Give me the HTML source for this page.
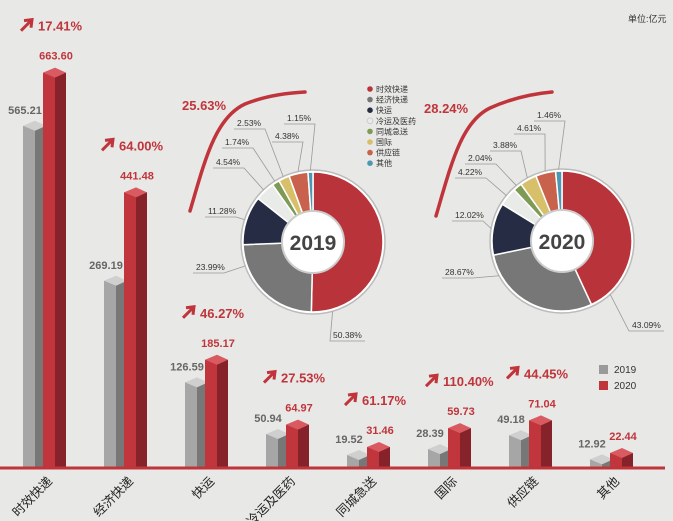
<!DOCTYPE html>
<html><head><meta charset="utf-8">
<style>
body{margin:0;background:#e8e8e6;}
svg{display:block;font-family:"Liberation Sans","Noto Sans CJK SC",sans-serif;}
</style></head>
<body>
<svg id="c" width="673" height="521" viewBox="0 0 673 521">
<rect width="673" height="521" fill="#e8e8e6"/>
<text x="628" y="22" font-size="9" fill="#333">单位:亿元</text>
<g id="bars"></g>
<line x1="0" y1="468" x2="665" y2="468" stroke="#c0353b" stroke-width="3"/>
<g id="donuts"></g>
<path d="M190,211 C205,160 215,118 245,104 C265,96 285,93 305,92" fill="none" stroke="#c0353b" stroke-width="3.5" stroke-linecap="round"/>
<text x="182" y="110" font-size="13" font-weight="bold" fill="#c0353b">25.63%</text>
<path d="M436,216 C451,165 461,122 490,108 C510,99 530,94 552,92" fill="none" stroke="#c0353b" stroke-width="3.5" stroke-linecap="round"/>
<text x="424" y="113" font-size="13" font-weight="bold" fill="#c0353b">28.24%</text>
<g id="legend"></g>
<g>
<rect x="599" y="365" width="9" height="9" fill="#9a9a9a"/>
<text x="614" y="373" font-size="10" fill="#333">2019</text>
<rect x="599" y="381" width="9" height="9" fill="#c0353b"/>
<text x="614" y="389" font-size="10" fill="#333">2020</text>
</g>
</svg>
<script>
const categories=["时效快递","经济快递","快运","冷运及医药","同城急送","国际","供应链","其他"];
const values2019=[565.21,269.19,126.59,50.94,19.52,28.39,49.18,12.92];
const values2020=[663.60,441.48,185.17,64.97,31.46,59.73,71.04,22.44];
const growthLabels=["17.41%","64.00%","46.27%","27.53%","61.17%","110.40%","44.45%"];
const share2019=[50.38,23.99,11.28,4.54,1.74,2.53,4.38,1.15];
const share2020=[43.09,28.67,12.02,4.22,2.04,3.88,4.61,1.46];
const NS="http://www.w3.org/2000/svg";
function mk(t,a,p){const e=document.createElementNS(NS,t);for(const k in a)e.setAttribute(k,a[k]);(p||document.getElementById('c')).appendChild(e);return e;}
const base=468;
const dom=[0,60,130,190,270,450,700], rng=[0,40,88,110,188,280,415];
function yScale(v){for(let i=1;i<dom.length;i++){if(v<=dom[i]||i==dom.length-1){const t=(v-dom[i-1])/(dom[i]-dom[i-1]);return base-(rng[i-1]+t*(rng[i]-rng[i-1]));}}}
function xScale(i){return 23+81*i;}
const bars=document.getElementById('bars');
function bar3d(x,v,cols,name){
  const y=yScale(v), fw=12, sw=11, d=5;
  const g=mk('g',{},bars);
  
  
  const f=mk('rect',{x:x,y:y,width:fw,height:base-y,fill:cols[0]},g);
  
  
  const s=mk('rect',{x:x+fw,y:y,width:sw,height:base-y,fill:cols[1]},g);
  
  
  const t=mk('polygon',{points:`${x},${y} ${x+fw},${y-d} ${x+fw+sw},${y} ${x+fw},${y+d}`,fill:cols[2]},g);
  
  
  return y;
}
categories.forEach((c,i)=>{
  const gx=xScale(i), rx=gx+20;
  const yg=bar3d(gx,values2019[i],['#a6a6a6','#777777','#cfcfcf'],'bar-2019-'+i);
  const yr=bar3d(rx,values2020[i],['#c1353c','#86232a','#d95b61'],'bar-2020-'+i);
  const tg=mk('text',{x:gx+2,y:yg-12,'font-size':11,'font-weight':'bold',fill:'#666','text-anchor':'middle'});
  tg.textContent=values2019[i].toFixed(2);
  
  
  const tr=mk('text',{x:rx+13,y:yr-13,'font-size':11,'font-weight':'bold',fill:'#c0353b','text-anchor':'middle'});
  tr.textContent=values2020[i].toFixed(2);
  
  
  const cx=gx+30;
  const cl=mk('text',{x:cx,y:482,'font-size':12.5,fill:'#222','text-anchor':'end',transform:`rotate(-45 ${cx} 482)`});
  cl.textContent=c;
  
  
  if(i<growthLabels.length){
    const gy=yr-42, ax=rx-22;
    const ar=mk('path',{d:`M${ax},${gy} L${ax+10},${gy-10} M${ax+3},${gy-10} L${ax+11},${gy-11} L${ax+10},${gy-3}`,stroke:'#c0353b','stroke-width':3,fill:'none'});
    
    
    const gl=mk('text',{x:ax+17,y:gy,'font-size':13,'font-weight':'bold',fill:'#c0353b'});
    gl.textContent=growthLabels[i];
    
    
  }
});
const colors=['#b9343a','#777777','#262c43','#e9ebe8','#7e9a55','#d8bf6a','#c8624c','#4d97b3'];
const lab2019=[[333,338],[196,270],[208,214],[216,165],[225,145],[237,126],[275,139],[287,121]];
const lab2020=[[632,328],[445,275],[455,218],[458,175],[468,161],[493,148],[517,131],[537,118]];
const dn=document.getElementById('donuts');
function donut(cx,cy,share,labs,year){
  const R=70,r=31;
  const g=mk('g',{},dn);
  
  
  const o=mk('circle',{cx:cx,cy:cy,r:R+2,fill:'#fff',stroke:'#bbb','stroke-width':1.5},g);
  
  
  const tot=share.reduce((a,b)=>a+b,0);
  let a0=0;
  share.forEach((s,i)=>{
    const a1=a0+s/tot*2*Math.PI;
    const p=(a,rr)=>[cx+rr*Math.sin(a),cy-rr*Math.cos(a)];
    const [x0,y0]=p(a0,R),[x1,y1]=p(a1,R);
    const lg=(a1-a0)>Math.PI?1:0;
    const sl=mk('path',{d:`M${cx},${cy} L${x0},${y0} A${R},${R} 0 ${lg} 1 ${x1},${y1} Z`,fill:colors[i],stroke:'#fff','stroke-width':1.5},g);
    
    
    const am=(i<2)?a1-0.3:(a0+a1)/2;
    const [mx,my]=p(am,R+2);
    const [lx,ly]=labs[i];
    const leftSide=lx<cx;
    let pts;
    if(leftSide){pts=`${lx-3},${ly+3} ${lx+28},${ly+3} ${mx},${my}`;}
    else{pts=`${lx+32},${ly+3} ${lx-3},${ly+3} ${mx},${my}`;}
    const ln=mk('polyline',{points:pts,fill:'none',stroke:'#999','stroke-width':0.8},g);
    
    
    const t=mk('text',{x:lx,y:ly,'font-size':8.5,fill:'#333'},g);
    t.textContent=s.toFixed(2)+'%';
    
    
    a0=a1;
  });
  const ic=mk('circle',{cx:cx,cy:cy,r:r,fill:'#fff',stroke:'#ccc','stroke-width':2},g);
  
  
  const yt=mk('text',{x:cx,y:cy+8,'font-size':21,'font-weight':'bold',fill:'#444','text-anchor':'middle'},g);
  yt.textContent=year;
  
  
}
donut(313,242,share2019,lab2019,'2019');
donut(562,241,share2020,lab2020,'2020');
const lg=document.getElementById('legend');
categories.forEach((c,i)=>{
  const y=89+i*10.6;
  const d=mk('circle',{cx:370,cy:y,r:2.8,fill:colors[i],stroke:i==3?'#ccc':'none'},lg);
  
  
  const t=mk('text',{x:376,y:y+3,'font-size':8,fill:'#333'},lg);
  t.textContent=c;
  
  
});
</script>
</body></html>
